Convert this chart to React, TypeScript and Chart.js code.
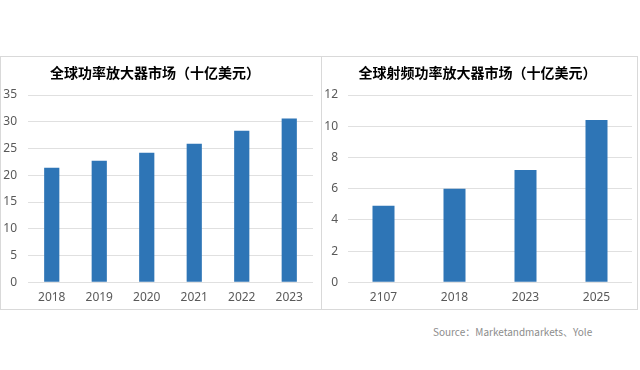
import React, { useEffect, useRef } from "react";
import { Chart, registerables } from "chart.js";

Chart.register(...registerables);

const leftTitle = "全球功率放大器市场（十亿美元）";
const leftCategories = ["2018", "2019", "2020", "2021", "2022", "2023"];
const leftValues = [21.4, 22.7, 24.2, 25.9, 28.3, 30.6];
const leftMax = 35;
const leftStep = 5;

const rightTitle = "全球射频功率放大器市场（十亿美元）";
const rightCategories = ["2107", "2018", "2023", "2025"];
const rightValues = [4.9, 6.0, 7.2, 10.4];
const rightMax = 12;
const rightStep = 2;

const sourceText = "Source：Marketandmarkets、Yole";

const BAR = "#2E75B6";
const GRID = "#E0E0E0";
const TICK = "#595959";
const FONT = "'Noto Sans', 'Noto Sans CJK SC', sans-serif";

const titlePlugin = {
  id: "panelTitle",
  afterDraw(chart: any, _args: any, opts: any) {
    const ctx = chart.ctx;
    ctx.save();
    ctx.font = "bold 14px 'Noto Sans CJK SC', sans-serif";
    ctx.fillStyle = "#000000";
    ctx.textAlign = "center";
    ctx.textBaseline = "middle";
    ctx.fillText(opts.text, opts.x, opts.y);
    ctx.restore();
  },
};

type PanelProps = {
  title: string;
  categories: string[];
  values: number[];
  max: number;
  step: number;
  barPct: number;
  axisWidth: number;
  labelPad: number;
  rightPad: number;
  titleX: number;
  width: number;
};

function Panel(p: PanelProps) {
  const ref = useRef<HTMLCanvasElement>(null);
  useEffect(() => {
    if (!ref.current) return;
    const chart = new Chart(ref.current, {
      type: "bar",
      data: {
        labels: p.categories,
        datasets: [
          {
            data: p.values,
            backgroundColor: BAR,
            borderWidth: 0,
            categoryPercentage: 1,
            barPercentage: p.barPct,
          },
        ],
      },
      plugins: [titlePlugin],
      options: {
        animation: false,
        responsive: false,
        maintainAspectRatio: false,
        layout: { padding: { top: 38, right: p.rightPad, left: 0, bottom: 0 } },
        plugins: {
          legend: { display: false },
          tooltip: { enabled: false },
          title: { display: false },
          panelTitle: { text: p.title, x: p.titleX, y: 16 },
        } as any,
        scales: {
          x: {
            grid: { display: false, drawTicks: false },
            border: { display: false },
            ticks: {
              color: TICK,
              font: { family: FONT, size: 12 },
              padding: 8.5,
            },
            afterFit(scale: any) {
              scale.height = 26.7;
            },
          },
          y: {
            min: 0,
            max: p.max,
            grid: { color: GRID, lineWidth: 1, drawTicks: false },
            border: { display: false },
            ticks: {
              stepSize: p.step,
              color: TICK,
              font: { family: FONT, size: 12 },
              padding: p.labelPad,
            },
            afterFit(scale: any) {
              scale.width = p.axisWidth;
            },
          },
        },
      },
    });
    return () => chart.destroy();
  }, []);
  return <canvas ref={ref} width={p.width} height={252} style={{ display: "block" }} />;
}

export default function App() {
  return (
    <div
      style={{
        position: "fixed",
        left: 0,
        top: 0,
        width: 640,
        height: 370,
        background: "#ffffff",
      }}
    >
      <div
        style={{
          position: "absolute",
          left: 0,
          top: 56,
          width: 322,
          height: 254,
          border: "1px solid #D9D9D9",
          boxSizing: "border-box",
        }}
      >
        <Panel
          title={leftTitle}
          categories={leftCategories}
          values={leftValues}
          max={leftMax}
          step={leftStep}
          barPct={0.32}
          axisWidth={27}
          labelPad={11}
          rightPad={8}
          titleX={154}
          width={320}
        />
      </div>
      <div
        style={{
          position: "absolute",
          left: 321,
          top: 56,
          width: 317,
          height: 254,
          border: "1px solid #D9D9D9",
          boxSizing: "border-box",
        }}
      >
        <Panel
          title={rightTitle}
          categories={rightCategories}
          values={rightValues}
          max={rightMax}
          step={rightStep}
          barPct={0.31}
          axisWidth={26}
          labelPad={10}
          rightPad={5}
          titleX={155.5}
          width={315}
        />
      </div>
      <div
        style={{
          position: "absolute",
          left: 433,
          top: 324,
          fontFamily: "'Noto Sans CJK SC', sans-serif",
          fontSize: 10,
          color: "#8C8C8C",
          whiteSpace: "nowrap",
          lineHeight: "16px",
        }}
      >
        {sourceText}
      </div>
    </div>
  );
}
